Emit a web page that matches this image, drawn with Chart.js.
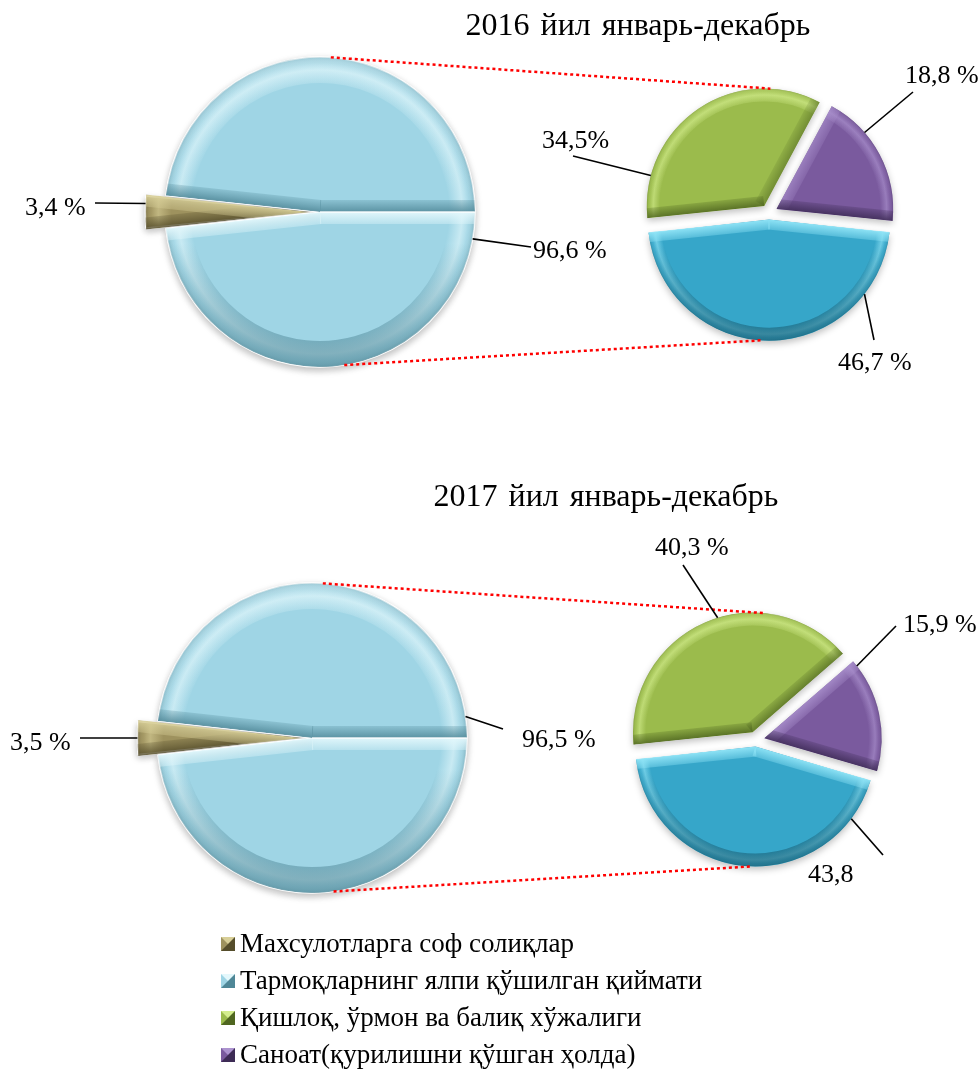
<!DOCTYPE html>
<html>
<head>
<meta charset="utf-8">
<script src="https://cdn.jsdelivr.net/npm/chart.js@4.4.1/dist/chart.umd.min.js"></script>
<style>
html, body { margin: 0; padding: 0; background: #fff; }
body { width: 979px; height: 1075px; position: relative; overflow: hidden; font-family: "Liberation Serif", "Times New Roman", serif; color: #000; }
.box { position: absolute; }
#overlay { position: absolute; left: 0; top: 0; pointer-events: none; z-index: 5; }
#legend { position: absolute; left: 221px; top: 925px; font-size: 27px; line-height: 37px; }
#legend div { white-space: nowrap; }
#legend i { display: inline-block; width: 0; height: 0; border: 7px solid; margin: 0 5px 1px 0; }
</style>
</head>
<body>
<div class="box" id="box-main-0"><canvas id="main-0" width="400" height="400"></canvas></div>
<div class="box" id="box-split-0"><canvas id="split-0" width="300" height="300"></canvas></div>
<div class="box" id="box-main-1"><canvas id="main-1" width="400" height="400"></canvas></div>
<div class="box" id="box-split-1"><canvas id="split-1" width="300" height="300"></canvas></div>
<canvas id="overlay" width="979" height="1075"></canvas>
<div id="legend"></div>
<script>
// --- data ---
const titles = ['2016 йил январь-декабрь', '2017 йил январь-декабрь'];
const legendLabels = ['Махсулотларга соф солиқлар', 'Тармоқларнинг ялпи қўшилган қиймати', 'Қишлоқ, ўрмон ва балиқ хўжалиги', 'Саноат(қурилишни қўшган ҳолда)'];
const mainLabels = [legendLabels[0], legendLabels[1]];
const main2016 = [3.4, 96.6];
const main2017 = [3.5, 96.5];
const mainText2016 = ['3,4 %', '96,6 %'];
const mainText2017 = ['3,5 %', '96,5 %'];
const splitLabels = [legendLabels[2], legendLabels[3], 'Хизматлар'];
const split2016 = [34.5, 18.8, 46.7];
const split2017 = [40.3, 15.9, 43.8];
const splitText2016 = ['34,5%', '18,8 %', '46,7 %'];
const splitText2017 = ['40,3 %', '15,9 %', '43,8'];

// --- styles ---
const pal = {
    brown:  { base: '#9e925e', light: '#d8cf98', dark: '#554d2b' },
    sky:    { base: '#9fd5e5', light: '#e4f8fc', dark: '#4f8797' },
    green:  { base: '#9bbb4c', light: '#d4ee8e', dark: '#4f6620' },
    purple: { base: '#7a5a9e', light: '#ac93cf', dark: '#3d2b55' },
    cyan:   { base: '#36a6c9', light: '#93e6f8', dark: '#175c72' }
};
const mainColors = [pal.brown, pal.sky];
const splitColors = [pal.green, pal.purple, pal.cyan];
const legendColors = [pal.brown, pal.sky, pal.green, pal.purple];

const panels = [
    {
        title: titles[0], titleX: 638, titleY: 35,
        main: { data: main2016, text: mainText2016, left: 120, top: 12, r: 155 },
        split: { data: split2016, text: splitText2016, left: 619, top: 63, r: 116 },
        leaders: [
            ['main', 0, 183, 95, 203, 25, 215],
            ['main', 1, 10, 531, 247, 533, 258],
            ['split', 0, 195, 573, 156, 542, 148],
            ['split', 1, 319, 913, 92, 905, 83],
            ['split', 2, 38, 874, 340, 838, 370]
        ],
        links: [[-86, 0, -87], [81, 2, 94]]
    },
    {
        title: titles[1], titleX: 606, titleY: 506,
        main: { data: main2017, text: mainText2017, left: 112, top: 538, r: 155 },
        split: { data: split2017, text: splitText2017, left: 606, top: 590, r: 116 },
        leaders: [
            ['main', 0, 180, 80, 738, 10, 750],
            ['main', 1, 352, 503, 729, 522, 747],
            ['split', 0, 253, 683, 565, 655, 555],
            ['split', 1, 322, 896, 626, 903, 632],
            ['split', 2, 37, 883, 855, 808, 882]
        ],
        links: [[-86, 0, -85], [82, 2, 92]]
    }
];

const $ = id => document.getElementById(id);

const rgba = (hex, a) => {
    const n = parseInt(hex.slice(1), 16);
    return `rgba(${n >> 16},${(n >> 8) & 255},${n & 255},${a})`;
};

// geometry of an arc as Chart.js draws it (offset / 4 shift)
function geo(arc) {
    const off = (arc.options.offset || 0) / 4;
    const mid = (arc.startAngle + arc.endAngle) / 2;
    const circ = arc.endAngle - arc.startAngle;
    const fix = 1 - Math.sin(Math.min(Math.PI, circ));
    return { tx: Math.cos(mid) * off, ty: Math.sin(mid) * off, r: arc.outerRadius + off * fix };
}

function slicePath(ctx, x, y, r, a0, a1) {
    ctx.beginPath();
    ctx.moveTo(x, y);
    ctx.arc(x, y, r, a0, a1);
    ctx.closePath();
}

// flat bevel band along a radial edge, lit from the top
function edgeBand(ctx, x, y, r, a, side, w, col) {
    const dx = Math.cos(a), dy = Math.sin(a);
    const nx = -dy * side, ny = dx * side;
    const up = ny; // > 0 : the bevel faces upwards
    const g = ctx.createLinearGradient(x, y, x + nx * w, y + ny * w);
    if (up > 0) {
        g.addColorStop(0, rgba(col.light, 0.35 + 0.6 * up));
        g.addColorStop(1, rgba(col.light, 0.1 + 0.25 * up));
    } else {
        g.addColorStop(0, rgba(col.dark, 0.25 - 0.6 * up));
        g.addColorStop(1, rgba(col.dark, 0.05 - 0.2 * up));
    }
    ctx.beginPath();
    ctx.moveTo(x, y);
    ctx.lineTo(x + dx * r * 1.1, y + dy * r * 1.1);
    ctx.lineTo(x + dx * r * 1.1 + nx * w, y + dy * r * 1.1 + ny * w);
    ctx.lineTo(x + nx * w, y + ny * w);
    ctx.closePath();
    ctx.fillStyle = g;
    ctx.fill();
}

const bevel = {
    id: 'bevel',
    beforeDatasetsDraw(chart) {
        const ctx = chart.ctx;
        ctx.save();
        ctx.shadowColor = 'rgba(0,0,0,0.25)';
        ctx.shadowBlur = 7;
        ctx.shadowOffsetY = 3;
    },
    afterDatasetsDraw(chart, args, opts) {
        const ctx = chart.ctx;
        ctx.restore();
        const rim = opts.rim, edge = opts.edge;
        const arcs = chart.getDatasetMeta(0).data;
        arcs.forEach((arc, i) => {
            const col = opts.colors[i];
            const g = geo(arc), x = arc.x, y = arc.y, r = g.r;
            ctx.save();
            ctx.translate(g.tx, g.ty);
            slicePath(ctx, x, y, r, arc.startAngle, arc.endAngle);
            ctx.clip();
            // rim profile
            const rg = ctx.createRadialGradient(x, y, r - rim, x, y, r);
            rg.addColorStop(0, rgba(col.light, 0));
            rg.addColorStop(0.5, rgba(col.light, 0.6));
            rg.addColorStop(0.78, rgba(col.light, 0.12));
            rg.addColorStop(1, rgba(col.dark, 0.3));
            ctx.fillStyle = rg;
            ctx.fillRect(x - r - 2, y - r - 2, 2 * r + 4, 2 * r + 4);
            // lighting on the rim
            const lg = ctx.createLinearGradient(0, y - r, 0, y + r);
            lg.addColorStop(0, rgba(col.light, 0.25));
            lg.addColorStop(0.45, rgba(col.light, 0));
            lg.addColorStop(0.6, rgba(col.dark, 0));
            lg.addColorStop(1, rgba(col.dark, 0.65));
            ctx.beginPath();
            ctx.arc(x, y, r - rim / 2, arc.startAngle, arc.endAngle);
            ctx.lineWidth = rim;
            ctx.strokeStyle = lg;
            ctx.stroke();
            edgeBand(ctx, x, y, r, arc.startAngle, 1, edge, col);
            edgeBand(ctx, x, y, r, arc.endAngle, -1, edge, col);
            if (opts.split && i === 1) {
                const b = arcs[0];
                const a = (b.startAngle + b.endAngle) / 2 + Math.PI;
                edgeBand(ctx, x, y, r, a, 1, edge, col);
                edgeBand(ctx, x, y, r, a, -1, edge, col);
                ctx.beginPath();
                ctx.moveTo(x, y);
                ctx.lineTo(x + Math.cos(a) * r, y + Math.sin(a) * r);
                ctx.strokeStyle = 'rgba(255,255,255,0.9)';
                ctx.lineWidth = 1.5;
                ctx.stroke();
            }
            ctx.restore();
        });
    }
};

function makePie(id, labels, data, colors, r, rotation, offsets, rimW, edgeW, split) {
    return new Chart($(id), {
        type: 'pie',
        data: {
            labels,
            datasets: [{
                data,
                backgroundColor: colors.map(c => c.base),
                borderWidth: split ? 1.5 : 0,
                borderColor: '#ffffff',
                offset: offsets
            }]
        },
        options: {
            responsive: false,
            animation: false,
            events: [],
            radius: r,
            rotation,
            layout: { padding: 0 },
            plugins: {
                legend: { display: false },
                tooltip: { enabled: false },
                bevel: { rim: rimW, edge: edgeW, split, colors }
            }
        },
        plugins: [bevel]
    });
}

const charts = panels.map((p, k) => {
    ['main', 'split'].forEach(s => {
        const b = $(`box-${s}-${k}`);
        b.style.left = p[s].left + 'px';
        b.style.top = p[s].top + 'px';
    });
    const main = makePie(`main-${k}`, mainLabels, p.main.data, mainColors, p.main.r,
        270 - p.main.data[0] * 3.6 / 2, [44, 0], 26, 12, true);
    const split = makePie(`split-${k}`, splitLabels, p.split.data, splitColors, p.split.r,
        264, [34, 34, 26], 13, 10, false);
    return { main, split };
});

// page-level point on a slice rim
function rimPoint(k, which, i, deg) {
    const chart = charts[k][which], p = panels[k][which];
    const arc = chart.getDatasetMeta(0).data[i];
    const g = geo(arc), a = deg * Math.PI / 180;
    return [p.left + arc.x + g.tx + Math.cos(a) * g.r, p.top + arc.y + g.ty + Math.sin(a) * g.r];
}

function drawOverlay() {
    const ctx = $('overlay').getContext('2d');
    panels.forEach((p, k) => {
        // red dotted links between the two pies
        ctx.save();
        ctx.strokeStyle = '#ff0000';
        ctx.lineWidth = 2.5;
        ctx.setLineDash([3, 3]);
        p.links.forEach(([a1, i, a2]) => {
            const s = rimPoint(k, 'main', 1, a1), e = rimPoint(k, 'split', i, a2);
            ctx.beginPath();
            ctx.moveTo(s[0], s[1]);
            ctx.lineTo(e[0], e[1]);
            ctx.stroke();
        });
        ctx.restore();

        // title
        ctx.save();
        ctx.fillStyle = '#000';
        ctx.font = '32px "Liberation Serif", serif';
        if ('wordSpacing' in ctx) ctx.wordSpacing = '3px';
        ctx.textAlign = 'center';
        ctx.textBaseline = 'alphabetic';
        ctx.fillText(p.title, p.titleX, p.titleY);
        ctx.restore();

        // data labels with leader lines
        ctx.fillStyle = '#000';
        ctx.textAlign = 'left';
        ctx.font = '26px "Liberation Serif", serif';
        ctx.strokeStyle = '#000';
        ctx.lineWidth = 1.6;
        p.leaders.forEach(([which, i, deg, lx, ly, tx, ty]) => {
            const s = rimPoint(k, which, i, deg);
            ctx.beginPath();
            ctx.moveTo(s[0], s[1]);
            ctx.lineTo(lx, ly);
            ctx.stroke();
            ctx.fillText(p[which].text[i], tx, ty);
        });
    });
}
drawOverlay();

// legend
$('legend').innerHTML = legendLabels.map((t, i) => {
    const c = legendColors[i];
    return `<div><i style="border-color:${c.light} ${c.dark} ${c.dark} ${c.base}"></i>${t}</div>`;
}).join('');
</script>
</body>
</html>
